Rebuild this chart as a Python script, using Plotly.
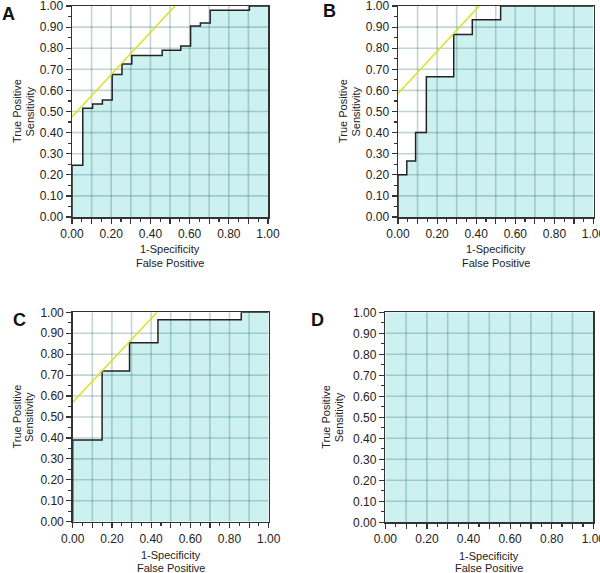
import plotly.graph_objects as go

# ---- data ----
panels = ["A", "B", "C", "D"]

fpr_A = [0, 0, 0.055, 0.105, 0.155, 0.205, 0.255, 0.305, 0.46, 0.555, 0.605, 0.655, 0.705, 0.905, 1.0]
tpr_A = [0, 0.245, 0.515, 0.535, 0.555, 0.675, 0.725, 0.765, 0.79, 0.81, 0.905, 0.92, 0.98, 1.0, 1.0]

fpr_B = [0, 0, 0.045, 0.09, 0.145, 0.285, 0.38, 0.525, 1.0]
tpr_B = [0, 0.2, 0.265, 0.4, 0.665, 0.865, 0.935, 1.0, 1.0]

fpr_C = [0, 0, 0.15, 0.29, 0.435, 0.86, 1.0]
tpr_C = [0, 0.39, 0.72, 0.855, 0.965, 1.0, 1.0]

fpr_D = [0, 0, 1.0]
tpr_D = [0, 1.0, 1.0]

tangent_x_A = [0, 0.525]
tangent_y_A = [0.475, 1.0]
tangent_x_B = [0, 0.415]
tangent_y_B = [0.585, 1.0]
tangent_x_C = [0, 0.43]
tangent_y_C = [0.57, 1.0]

y_ticks = [0.0, 0.1, 0.2, 0.3, 0.4, 0.5, 0.6, 0.7, 0.8, 0.9, 1.0]
y_tick_labels = ["0.00", "0.10", "0.20", "0.30", "0.40", "0.50", "0.60", "0.70", "0.80", "0.90", "1.00"]
x_ticks = [0.0, 0.1, 0.2, 0.3, 0.4, 0.5, 0.6, 0.7, 0.8, 0.9, 1.0]
x_tick_labels = ["0.00", "", "0.20", "", "0.40", "", "0.60", "", "0.80", "", "1.00"]

x_title_lines = ["1-Specificity", "False Positive"]
y_title_lines = ["True Positive", "Sensitivity"]

curves = {
    "A": (fpr_A, tpr_A, tangent_x_A, tangent_y_A),
    "B": (fpr_B, tpr_B, tangent_x_B, tangent_y_B),
    "C": (fpr_C, tpr_C, tangent_x_C, tangent_y_C),
    "D": (fpr_D, tpr_D, None, None),
}

# ---- layout geometry, in window px ----
W, H = 600, 573
boxes = {  # left, right, top, bottom
    "A": (72, 268, 6, 217),
    "B": (398, 593.5, 6, 217),
    "C": (72.7, 268.7, 312.3, 521.7),
    "D": (385.3, 593.3, 312.3, 522.3),
}
letter_pos = {"A": (8, 14), "B": (329, 11), "C": (19, 320), "D": (317, 320)}
ytitle_x = {"A": (16.5, 29), "B": (342.5, 355), "C": (16.5, 29), "D": (326.5, 339)}
xtitle_y = {"A": (249, 263), "B": (249, 263), "C": (555, 568), "D": (556, 568)}


def px(x):
    return x / W


def py(y):
    return 1 - y / H


FONT = "Liberation Sans, Arial, sans-serif"
FILL = "#cdf1f1"
GRID = "rgba(35,100,100,0.28)"
AXIS = "#333333"
TXT = "#222222"

fig = go.Figure()
layout = dict(
    width=W, height=H, margin=dict(l=0, r=0, t=0, b=0, autoexpand=False),
    paper_bgcolor="white", plot_bgcolor="white", showlegend=False,
    font=dict(family=FONT, size=12, color=TXT),
)
annotations = []

for i, p in enumerate(panels):
    n = "" if i == 0 else str(i + 1)
    xa, ya = "x" + n, "y" + n
    l, r, t, b = boxes[p]
    fx, fy, tx, ty = curves[p]

    # area under the ROC curve
    fig.add_trace(go.Scatter(x=fx, y=fy, xaxis=xa, yaxis=ya, mode="lines",
                             line=dict(shape="hv", width=0, color=FILL),
                             fill="tozeroy", fillcolor=FILL, hoverinfo="skip"))
    # grid drawn above the fill
    gx, gy = [], []
    for v in x_ticks[1:-1]:
        gx += [v, v, None]
        gy += [0, 1, None]
    for v in y_ticks[1:-1]:
        gx += [0, 1, None]
        gy += [v, v, None]
    fig.add_trace(go.Scatter(x=gx, y=gy, xaxis=xa, yaxis=ya, mode="lines",
                             line=dict(color=GRID, width=1.6), hoverinfo="skip"))
    # ROC curve + tangent line
    if p != "D":
        fig.add_trace(go.Scatter(x=fx, y=fy, xaxis=xa, yaxis=ya, mode="lines",
                                 line=dict(shape="hv", color="#222", width=1.5),
                                 hoverinfo="skip"))
        fig.add_trace(go.Scatter(x=tx, y=ty, xaxis=xa, yaxis=ya, mode="lines",
                                 line=dict(color="#d6e41a", width=1.5),
                                 hoverinfo="skip"))

    common = dict(
        range=[0, 1], automargin=False, tickmode="array",
        ticks="outside", ticklen=5, tickwidth=1.2, tickcolor=AXIS,
        minor=dict(dtick=0.05, tick0=0, ticks="outside", ticklen=3, tickcolor=AXIS, showgrid=False),
        showgrid=False, zeroline=False, showline=True, linecolor=AXIS, linewidth=1.5,
        mirror=True, tickfont=dict(size=12, color=TXT), ticklabeloverflow="allow",
        fixedrange=True,
    )
    layout["xaxis" + n] = dict(domain=[px(l), px(r)], anchor=ya,
                               tickvals=x_ticks, ticktext=x_tick_labels, **common)
    layout["yaxis" + n] = dict(domain=[py(b), py(t)], anchor=xa,
                               tickvals=y_ticks, ticktext=y_tick_labels, **common)

    lx, ly = letter_pos[p]
    annotations.append(dict(text="<b>%s</b>" % p, x=px(lx), y=py(ly), xref="paper", yref="paper",
                            showarrow=False, xanchor="center", yanchor="middle",
                            font=dict(size=18, color="#111", family=FONT)))
    cx = (l + r) / 2
    for line_text, yy in zip(x_title_lines, xtitle_y[p]):
        annotations.append(dict(text=line_text, x=px(cx), y=py(yy), xref="paper", yref="paper",
                                showarrow=False, xanchor="center", yanchor="middle",
                                font=dict(size=11, color=TXT, family=FONT)))
    cy = (t + b) / 2
    for line_text, xx in zip(y_title_lines, ytitle_x[p]):
        annotations.append(dict(text=line_text, x=px(xx), y=py(cy), xref="paper", yref="paper",
                                showarrow=False, xanchor="center", yanchor="middle", textangle=-90,
                                font=dict(size=11, color=TXT, family=FONT)))

layout["annotations"] = annotations
fig.update_layout(**layout)
# remove the browser's default 8px body margin so the figure sits at the window origin
fig.write_html("out.html",
               config={"displayModeBar": False, "staticPlot": True},
               post_script="document.body.style.margin='0';document.body.style.overflow='hidden';")
